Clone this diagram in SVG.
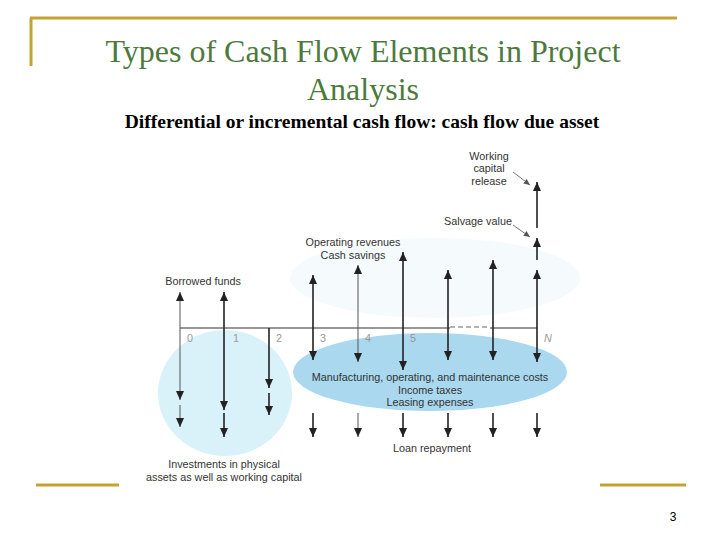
<svg xmlns="http://www.w3.org/2000/svg" width="720" height="540" viewBox="0 0 720 540">
<defs>
<style>
.gold{stroke:#c5a332;stroke-width:3;fill:none}
.title{font-family:"Liberation Serif","Times New Roman",serif;font-size:32px;fill:#4d7a3c;text-anchor:middle}
.sub{font-family:"Liberation Serif","Times New Roman",serif;font-size:19.5px;font-weight:bold;fill:#000;text-anchor:middle}
.lbl{font-family:"Liberation Sans",Arial,sans-serif;font-size:10.8px;fill:#333;text-anchor:middle}
.num{font-family:"Liberation Sans",Arial,sans-serif;font-size:10.8px;fill:#999;text-anchor:middle}
.ar{stroke:#222;stroke-width:1.6;fill:none;marker-end:url(#ah)}
.thin{stroke:#555;stroke-width:1}
.lead{stroke:#555;stroke-width:0.8;fill:none;marker-end:url(#ahs)}
</style>
<marker id="ah" markerUnits="userSpaceOnUse" markerWidth="10" markerHeight="10" viewBox="0 0 10 10" refX="9" refY="5" orient="auto">
<path d="M0,1 L9,5 L0,9 Z" fill="#222"/>
</marker>
<marker id="ahs" markerUnits="userSpaceOnUse" markerWidth="7" markerHeight="7" viewBox="0 0 10 10" refX="9" refY="5" orient="auto">
<path d="M0,1 L9,5 L0,9 Z" fill="#555"/>
</marker>
</defs>
<rect width="720" height="540" fill="#fff"/>
<g id="frame">
<path class="gold" d="M30,18 H677 M31,18 V66"/>
<path class="gold" d="M36,485 H119 M600,485 H686" stroke-width="2.5"/>
</g>
<g id="title">
<text class="title" x="363" y="62">Types of Cash Flow Elements in Project</text>
<text class="title" x="363" y="100">Analysis</text>
<text class="sub" x="362" y="128">Differential or incremental cash flow: cash flow due asset</text>
</g>
<g id="regions">
<ellipse cx="435" cy="278" rx="145" ry="40" fill="#f5fbfd"/>
<ellipse cx="225" cy="393" rx="67" ry="63" fill="#d9f1f8"/>
<ellipse cx="430" cy="372" rx="137" ry="39" fill="#a9d8ef"/>
</g>
<g id="timeline">
<path d="M180,328 H450 M490,328 H537" stroke="#333" stroke-width="1.2" fill="none"/>
<path d="M450,327 H490" stroke="#666" stroke-width="1" stroke-dasharray="5,3" fill="none"/>
<text class="num" x="190" y="342">0</text>
<text class="num" x="236" y="342" fill="#bbb">1</text>
<text class="num" x="279" y="342">2</text>
<text class="num" x="323" y="342">3</text>
<text class="num" x="368" y="342">4</text>
<text class="num" x="413" y="342">5</text>
<text class="num" x="548" y="342" font-style="italic" fill="#555">N</text>
</g>
<g id="connectors">
<path class="ar thin" d="M180,328 V292"/>
<path class="ar" d="M224,328 V292"/>
<path class="ar" d="M313,328 V275"/>
<path class="ar thin" d="M358,328 V265"/>
<path class="ar" d="M403,328 V252"/>
<path class="ar" d="M448,328 V270"/>
<path class="ar" d="M493,328 V260"/>
<path class="ar" d="M537,328 V270"/>
<path class="ar" d="M537,260 V238"/>
<path class="ar" d="M537,228 V182"/>
<path class="ar thin" d="M180,328 V400"/>
<path class="ar thin" d="M180,405 V427"/>
<path class="ar" d="M224,328 V410"/>
<path class="ar" d="M224,413 V437"/>
<path class="ar" d="M269,328 V388"/>
<path class="ar" d="M269,393 V415"/>
<path class="ar" d="M313,328 V360"/>
<path class="ar thin" d="M358,328 V362"/>
<path class="ar" d="M403,328 V370"/>
<path class="ar" d="M448,328 V360"/>
<path class="ar" d="M493,328 V360"/>
<path class="ar" d="M537,328 V362"/>
<path class="ar" d="M313,413 V437"/>
<path class="ar thin" d="M358,413 V437"/>
<path class="ar" d="M403,413 V437"/>
<path class="ar" d="M448,413 V437"/>
<path class="ar" d="M493,413 V437"/>
<path class="ar" d="M537,413 V437"/>
<path class="lead" d="M513,172 L530,185"/>
<path class="lead" d="M513,225 L530,237"/>
</g>
<g id="label-working-capital">
<text class="lbl" x="489" y="160">Working</text>
<text class="lbl" x="489" y="172">capital</text>
<text class="lbl" x="489" y="185">release</text>
</g>
<g id="label-salvage"><text class="lbl" x="478" y="225">Salvage value</text></g>
<g id="label-operating">
<text class="lbl" x="353" y="246">Operating revenues</text>
<text class="lbl" x="353" y="259">Cash savings</text>
</g>
<g id="label-borrowed"><text class="lbl" x="203" y="285">Borrowed funds</text></g>
<g id="label-costs">
<text class="lbl" x="430" y="381">Manufacturing, operating, and maintenance costs</text>
<text class="lbl" x="430" y="394">Income taxes</text>
<text class="lbl" x="430" y="406">Leasing expenses</text>
</g>
<g id="label-loan"><text class="lbl" x="432" y="452" fill="#888">Loan repayment</text></g>
<g id="label-investments">
<text class="lbl" x="224" y="468">Investments in physical</text>
<text class="lbl" x="224" y="481">assets as well as working capital</text>
</g>
<text x="673" y="521" font-family="Liberation Sans,Arial,sans-serif" font-size="12" text-anchor="middle" fill="#000">3</text>
</svg>
